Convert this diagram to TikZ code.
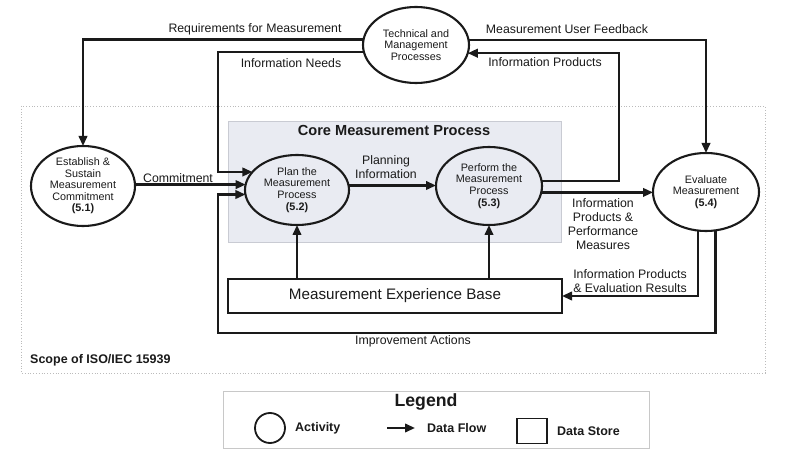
\documentclass[tikz,border=0pt]{standalone}
\usepackage{fontspec}
\setmainfont{Liberation Sans}
\usetikzlibrary{arrows.meta,shapes.geometric,calc}
\definecolor{corefill}{HTML}{E9EBF2}
\definecolor{coreline}{HTML}{C9CBD3}
\definecolor{scopeline}{HTML}{BBBBBB}
\definecolor{legendline}{HTML}{C8C8C8}
\definecolor{ink}{HTML}{1A1A1A}
\newcommand\actfont{\fontsize{10.8bp}{11.6bp}\selectfont}
\newcommand\lblfont{\fontsize{12.3bp}{14.2bp}\selectfont}
\begin{document}
\begin{tikzpicture}[x=1bp,y=-1bp,
  act/.style={ellipse, draw=ink, line width=2.1bp, inner sep=-6bp, outer sep=0pt, font=\actfont, align=center, text=ink},
  store/.style={rectangle, draw=ink, line width=2.1bp, inner sep=0pt, outer sep=0pt, text=ink},
  flow/.style={draw=ink, line width=2.2bp, -{Triangle[length=10bp,width=8.5bp]}},
  lbl/.style={font=\lblfont, text=ink, align=center, inner sep=0pt},
  bold/.style={font=\fontsize{12.5bp}{14bp}\selectfont\bfseries, text=ink, inner sep=0pt}
]
\useasboundingbox (0,0) rectangle (785,453);
\fill[white] (0,0) rectangle (785,453);
% scope
\draw[scopeline, dotted, line width=0.8bp] (21,106) rectangle (765,373);
% core box
\node[draw=coreline, fill=corefill, line width=0.8bp, minimum width=333bp, minimum height=121bp, inner sep=0pt] (core) at (394.5,181.5) {};
\node[font=\fontsize{14.6bp}{16bp}\selectfont\bfseries, text=ink, inner sep=0pt] (coretitle) at (394,130) {Core Measurement Process};
% activities
\node[act, minimum width=106bp, minimum height=76bp] (tech) at (416,45) {Technical and\\Management\\Processes};
\node[act, minimum width=104bp, minimum height=80bp] (est) at (83,186) {Establish \&\\Sustain\\Measurement\\Commitment\\\textbf{(5.1)}};
\node[act, minimum width=104bp, minimum height=70bp] (plan) at (297,190) {Plan the\\Measurement\\Process\\\textbf{(5.2)}};
\node[act, minimum width=106bp, minimum height=78bp] (perf) at (489,186) {Perform the\\Measurement\\Process\\\textbf{(5.3)}};
\node[act, minimum width=106bp, minimum height=78bp] (eval) at (706,192) {Evaluate\\Measurement\\\textbf{(5.4)}};
% data store
\node[store, minimum width=334bp, minimum height=34bp, font=\fontsize{15.2bp}{17bp}\selectfont] (base) at (395,296) {Measurement Experience Base};
% bend coordinates
\coordinate (lx) at (218,172);
\coordinate (bl) at (218,333);
\coordinate (rx) at (619,181);
% connectors
\draw[flow] (tech.174.6) -| (est.north);
\draw[flow] (tech.188.8) -| (lx |- plan.158) -- (plan.158);
\draw[flow] (plan.174.5 -| est.east) -- (plan.174.5);
\draw[flow] (eval.284.6) |- (bl) |- (plan.185.5);
\draw[flow] (plan.5.5) -- (plan.5.5 -| perf.west);
\draw[flow] (perf.5.4) -| (rx |- tech.351.2) -- (tech.351.2);
\draw[flow] (tech.5.4) -| (eval.north);
\draw[flow] (perf.353.5) -- (perf.353.5 -| eval.west);
\draw[flow] (eval.258.3) |- (base.east);
\draw[flow] (base.north -| plan.south) -- (plan.south);
\draw[flow] (base.north -| perf.south) -- (perf.south);
% labels
\node[lbl] (lreq) at (255,29) {Requirements for Measurement};
\node[lbl] (lneeds) at (291,63) {Information Needs};
\node[lbl] (lcom) at (178,178) {Commitment};
\node[lbl] (lplan) at (386,167) {Planning\\Information};
\node[lbl] (lfeed) at (567,29) {Measurement User Feedback};
\node[lbl] (lprod) at (545,62) {Information Products};
\node[lbl] (lpm) at (603,224) {Information\\Products \&\\Performance\\Measures};
\node[lbl] (ler) at (630,281) {Information Products\\\& Evaluation Results};
\node[lbl] (limp) at (413,341) {Improvement Actions};
\node[bold, anchor=west] (scope) at (30,360) {Scope of ISO/IEC 15939};
% legend
\draw[legendline, line width=1bp] (223,391) rectangle (649,448);
\node[font=\fontsize{17.7bp}{19bp}\selectfont\bfseries, text=ink, inner sep=0pt] (legend) at (426,402) {Legend};
\node[circle, draw=ink, line width=1.8bp, minimum size=30bp, inner sep=0pt] (lcirc) at (270,428) {};
\node[bold, anchor=west] (lact) at (295,428) {Activity};
\coordinate (la) at (387,428);
\coordinate (lb) at (415,428);
\draw[flow] (la) -- (lb);
\node[bold, anchor=west] (lflow) at (427,428) {Data Flow};
\node[rectangle, draw=ink, line width=1.8bp, minimum width=30bp, minimum height=25bp, inner sep=0pt] (lsq) at (532,431) {};
\node[bold, anchor=west] (lstore) at (557,431) {Data Store};
\end{tikzpicture}
\end{document}
